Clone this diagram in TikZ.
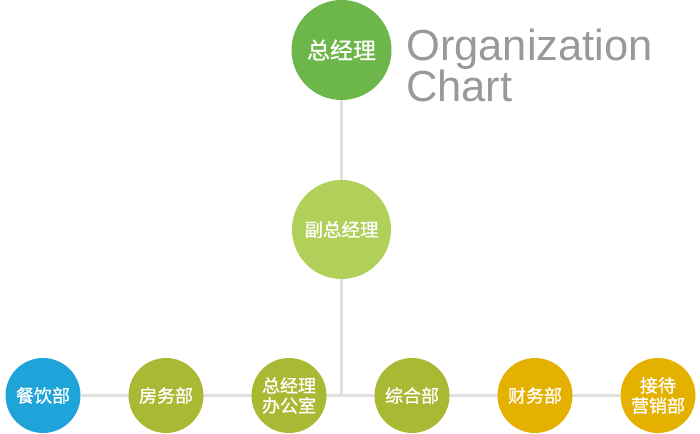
\documentclass[tikz,border=0pt]{standalone}
\usepackage{fontspec}
\setmainfont{Liberation Sans}
\newfontfamily\cjk{Noto Sans CJK SC}[FakeBold=0.8]
\usetikzlibrary{backgrounds}

\definecolor{topgreen}{RGB}{108,182,74}
\definecolor{lightgreen}{RGB}{177,208,90}
\definecolor{deptblue}{RGB}{30,164,216}
\definecolor{deptolive}{RGB}{170,185,52}
\definecolor{deptgold}{RGB}{229,177,0}
\definecolor{linegray}{RGB}{224,224,224}
\definecolor{titlegray}{RGB}{153,153,153}

\tikzset{
  unit/.style={circle, fill=#1, text=white, inner sep=0pt, align=center},
  link/.style={draw=linegray, line width=3pt}
}

\begin{document}
\begin{tikzpicture}[x=1pt, y=-1pt]
  \useasboundingbox (0,0) rectangle (700,433);

  % Top of the chart
  \node[unit=topgreen, minimum size=100pt, font=\cjk\fontsize{23}{27}\selectfont]
    (boss) at (341.5,50) {总经理};
  \node[unit=lightgreen, minimum size=99pt, font=\cjk\fontsize{18.5}{22}\selectfont]
    (vice) at (341.5,229.5) {副总经理};

  % Title (base = baseline of the last line)
  \node[anchor=base west, inner sep=0pt, align=left, text=titlegray,
        font=\fontsize{43.5}{37}\selectfont]
    (title) at (406,102) {Organization\\Chart};

  % Departments: name/x/colour/label
  \foreach \nm/\xx/\cc/\lbl in {canyin/43/deptblue/餐饮部,
                                fangwu/166/deptolive/房务部,
                                office/289/deptolive/{总经理\\办公室},
                                zonghe/412/deptolive/综合部,
                                caiwu/535/deptgold/财务部,
                                yingxiao/658/deptgold/{接待\\营销部}}{
    \node[unit=\cc, minimum size=75pt, font=\cjk\fontsize{18}{20}\selectfont]
      (\nm) at (\xx,395.5) {\lbl};
  }

  % Connectors
  \begin{scope}[on background layer]
    \draw[link] (boss) -- (vice);
    \draw[link] (vice) -- (vice |- canyin);
    \draw[link] (canyin) -- (yingxiao);
  \end{scope}
\end{tikzpicture}
\end{document}
